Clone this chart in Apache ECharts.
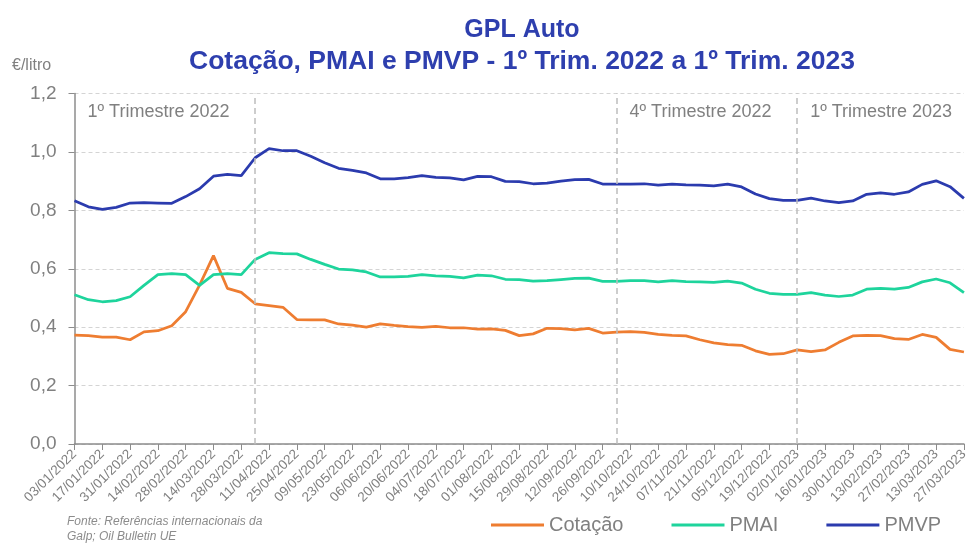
<!DOCTYPE html>
<html>
<head>
<meta charset="utf-8">
<script src="https://cdn.jsdelivr.net/npm/echarts@6/dist/echarts.min.js"></script>
<style>
  html, body { margin: 0; padding: 0; background: #fff; }
  #chart { width: 971px; height: 545px; }
</style>
</head>
<body>
<div id="chart"></div>
<script>
// semanas (segundas-feiras) de 03/01/2022 a 27/03/2023
const weeks = [
  '03/01/2022', '10/01/2022', '17/01/2022', '24/01/2022', '31/01/2022', '07/02/2022', '14/02/2022', '21/02/2022',
  '28/02/2022', '07/03/2022', '14/03/2022', '21/03/2022', '28/03/2022', '04/04/2022', '11/04/2022', '18/04/2022',
  '25/04/2022', '02/05/2022', '09/05/2022', '16/05/2022', '23/05/2022', '30/05/2022', '06/06/2022', '13/06/2022',
  '20/06/2022', '27/06/2022', '04/07/2022', '11/07/2022', '18/07/2022', '25/07/2022', '01/08/2022', '08/08/2022',
  '15/08/2022', '22/08/2022', '29/08/2022', '05/09/2022', '12/09/2022', '19/09/2022', '26/09/2022', '03/10/2022',
  '10/10/2022', '17/10/2022', '24/10/2022', '31/10/2022', '07/11/2022', '14/11/2022', '21/11/2022', '28/11/2022',
  '05/12/2022', '12/12/2022', '19/12/2022', '26/12/2022', '02/01/2023', '09/01/2023', '16/01/2023', '23/01/2023',
  '30/01/2023', '06/02/2023', '13/02/2023', '20/02/2023', '27/02/2023', '06/03/2023', '13/03/2023', '20/03/2023',
  '27/03/2023'
];

const cotacao = [
  0.373, 0.371, 0.366, 0.366, 0.357, 0.384, 0.388, 0.405, 0.453, 0.544,
  0.645, 0.533, 0.519, 0.480, 0.474, 0.468, 0.426, 0.425, 0.425, 0.411,
  0.407, 0.400, 0.411, 0.406, 0.402, 0.399, 0.403, 0.398, 0.398, 0.393,
  0.394, 0.389, 0.371, 0.377, 0.396, 0.395, 0.391, 0.396, 0.380, 0.383,
  0.385, 0.382, 0.375, 0.372, 0.370, 0.357, 0.346, 0.340, 0.338, 0.319,
  0.307, 0.309, 0.322, 0.316, 0.322, 0.348, 0.370, 0.372, 0.371, 0.361,
  0.358, 0.375, 0.365, 0.324, 0.315
];

const pmai = [
  0.511, 0.494, 0.487, 0.491, 0.504, 0.543, 0.580, 0.583, 0.580, 0.543,
  0.580, 0.583, 0.580, 0.632, 0.655, 0.652, 0.651, 0.632, 0.615, 0.599,
  0.596, 0.589, 0.572, 0.572, 0.574, 0.580, 0.576, 0.574, 0.569, 0.578,
  0.576, 0.564, 0.563, 0.558, 0.559, 0.563, 0.567, 0.568, 0.557, 0.557,
  0.559, 0.559, 0.555, 0.559, 0.556, 0.555, 0.553, 0.558, 0.551, 0.530,
  0.516, 0.512, 0.512, 0.518, 0.510, 0.505, 0.510, 0.530, 0.533, 0.530,
  0.536, 0.555, 0.565, 0.552, 0.518
];

const pmvp = [
  0.833, 0.812, 0.803, 0.810, 0.825, 0.826, 0.825, 0.824, 0.847, 0.874,
  0.917, 0.923, 0.919, 0.980, 1.011, 1.004, 1.004, 0.985, 0.963, 0.944,
  0.937, 0.928, 0.908, 0.908, 0.912, 0.919, 0.913, 0.911, 0.904, 0.916,
  0.915, 0.899, 0.898, 0.891, 0.893, 0.900, 0.905, 0.906, 0.890, 0.890,
  0.890, 0.891, 0.886, 0.890, 0.887, 0.886, 0.884, 0.890, 0.880, 0.856,
  0.840, 0.834, 0.834, 0.842, 0.832, 0.826, 0.832, 0.855, 0.860, 0.855,
  0.863, 0.889, 0.901, 0.881, 0.841
];

// linhas verticais de separação dos trimestres
const quarterLines = ['04/04/2022', '03/10/2022', '02/01/2023'];
// etiquetas dos trimestres: nome, início, fim
const quarterNames = ['1º Trimestre 2022', '4º Trimestre 2022', '1º Trimestre 2023'];
const quarterStart = ['03/01/2022', '03/10/2022', '02/01/2023'];
const quarterEnd = ['04/04/2022', '02/01/2023', '27/03/2023'];

const FONT = "'Liberation Sans', Arial, sans-serif";
const GREY = '#808080';

const chart = echarts.init(document.getElementById('chart'));

chart.setOption({
  animation: false,
  textStyle: { fontFamily: FONT },
  title: [
    {
      text: 'GPL Auto',
      left: 517,
      top: 13,
      textAlign: 'center',
      textStyle: { fontSize: 25, fontWeight: 'bold', color: '#2E3FAE', fontFamily: FONT }
    },
    {
      text: 'Cotação, PMAI e PMVP - 1º Trim. 2022 a 1º Trim. 2023',
      left: 517,
      top: 43,
      textAlign: 'center',
      textStyle: { fontSize: 26.5, fontWeight: 'bold', color: '#2E3FAE', fontFamily: FONT }
    }
  ],
  graphic: [
    {
      type: 'text', left: 12, top: 58,
      style: { text: '€/litro', fontSize: 16, fill: GREY, fontFamily: FONT }
    },
    {
      type: 'text', left: 67, top: 514,
      style: {
        text: 'Fonte: Referências internacionais da\nGalp; Oil Bulletin UE',
        fontSize: 12, fontStyle: 'italic', lineHeight: 15, fill: '#8C8C8C', fontFamily: FONT
      }
    }
  ],
  legend: {
    left: 486,
    top: 510,
    icon: 'rect',
    itemWidth: 53,
    itemHeight: 3,
    itemGap: 48,
    textStyle: { fontSize: 20, color: GREY, fontFamily: FONT },
    data: ['Cotação', 'PMAI', 'PMVP']
  },
  grid: { left: 74.5, right: 4.5, top: 93.5, bottom: 101, containLabel: false },
  xAxis: {
    type: 'category',
    boundaryGap: false,
    data: weeks,
    axisLine: { lineStyle: { color: '#8C8C8C', width: 1.5 } },
    axisTick: { interval: 1, length: 6, lineStyle: { color: '#8C8C8C' } },
    axisLabel: {
      interval: 1,
      rotate: 45,
      margin: 8,
      fontSize: 13.5,
      color: GREY,
      fontFamily: FONT
    },
    splitLine: { show: false }
  },
  yAxis: {
    type: 'value',
    min: 0,
    max: 1.2,
    interval: 0.2,
    axisLine: { show: true, lineStyle: { color: '#8C8C8C', width: 1.5 } },
    axisTick: { show: true, length: 6, lineStyle: { color: '#8C8C8C' } },
    axisLabel: {
      margin: 18,
      fontSize: 19,
      color: GREY,
      fontFamily: FONT,
      formatter: v => v.toFixed(1).replace('.', ',')
    },
    splitLine: { lineStyle: { color: '#D4D4D4', type: [4, 3], width: 1 } }
  },
  series: [
    {
      name: 'Cotação',
      type: 'line',
      data: cotacao,
      showSymbol: false,
      color: '#EE7D31',
      lineStyle: { width: 2.75 },
      markLine: {
        silent: true,
        symbol: 'none',
        label: { show: false },
        lineStyle: { color: '#BDBDBD', type: [6, 4], width: 1.5 },
        data: quarterLines.map(d => ({ xAxis: d }))
      }
    },
    {
      name: 'PMAI',
      type: 'line',
      data: pmai,
      showSymbol: false,
      color: '#1ED49C',
      lineStyle: { width: 2.75 }
    },
    {
      name: 'PMVP',
      type: 'line',
      data: pmvp,
      showSymbol: false,
      color: '#2B3BAE',
      lineStyle: { width: 2.75 },
      markArea: {
        silent: true,
        itemStyle: { color: 'rgba(0,0,0,0)' },
        label: {
          position: 'insideTopLeft',
          distance: 10,
          offset: [3, 0],
          fontSize: 18,
          color: GREY,
          fontFamily: FONT
        },
        data: quarterNames.map((n, i) => [
          { name: n, xAxis: quarterStart[i] },
          { xAxis: quarterEnd[i] }
        ])
      }
    }
  ]
});
</script>
</body>
</html>
